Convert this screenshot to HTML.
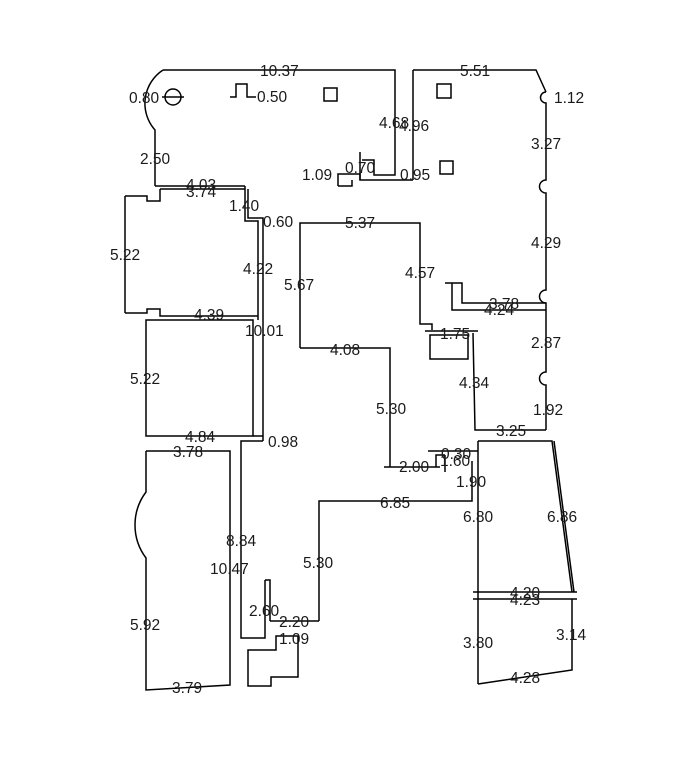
<!DOCTYPE html>
<html><head><style>
html,body{margin:0;padding:0;background:#fff;}
svg{display:block}
text{font-family:"Liberation Sans",sans-serif;font-size:15.5px;fill:#1a1a1a;}
</style></head><body>
<svg width="677" height="758" viewBox="0 0 677 758" xmlns="http://www.w3.org/2000/svg">
<g fill="none" stroke="#000" stroke-width="1.5">
<path d="M163,70 L395,70 L395,175 L374,175 L374,160 L362,160"/>
<path d="M163,70 A40,40 0 0 0 155,130 L155,186"/>
<circle cx="173" cy="97" r="8"/>
<line x1="162" y1="97" x2="184" y2="97"/>
<path d="M230,97 L236,97 L236,84 L247,84 L247,97 L256,97"/>
<rect x="324" y="88" width="13" height="13"/>
<rect x="437" y="84" width="14" height="14"/>
<rect x="440" y="161" width="13" height="13"/>
<path d="M413,70 L536,70 L546,92"/>
<line x1="413" y1="70" x2="413" y2="180"/>
<path d="M338,186 L338,174 L360,174 L360,180 L413,180"/>
<path d="M352,180 L352,186 L338,186"/>
<line x1="360" y1="152" x2="360" y2="180"/>
<path d="M546,92 A5,5 0 0 0 546,103 L546,180 A5,5 0 0 0 546,193 L546,290 A5,5 0 0 0 546,303 L546,372 A5,5 0 0 0 546,385 L546,430"/>
<line x1="155" y1="186" x2="245" y2="186"/>
<line x1="160" y1="189" x2="245" y2="189"/>
<path d="M245,186 L245,221 L258,221 L258,320"/>
<path d="M248,189 L248,218 L263,218 L263,441"/>
<path d="M125,196 L147,196 L147,201 L160,201 L160,189"/>
<line x1="125" y1="196" x2="125" y2="313"/>
<path d="M125,313 L147,313 L147,309 L160,309 L160,316 L258,316"/>
<rect x="146" y="320" width="107" height="116"/>
<line x1="253" y1="436" x2="263" y2="436"/>
<path d="M300,348 L300,223 L420,223 L420,324 L432,324 L432,330"/>
<path d="M300,348 L390,348 L390,467"/>
<line x1="384" y1="467" x2="440" y2="467"/>
<path d="M436,467 L436,455 L445,455"/>
<line x1="428" y1="451" x2="478" y2="451"/>
<line x1="445" y1="455" x2="445" y2="472"/>
<path d="M445,283 L462,283 L462,303 L546,303"/>
<path d="M452,283 L452,310 L546,310"/>
<rect x="430" y="335" width="38" height="24"/>
<path d="M425,331 L478,331"/>
<path d="M473,333 L475,430 L546,430"/>
<path d="M319,621 L319,501 L472,501 L472,461"/>
<path d="M270,621 L319,621"/>
<path d="M265,580 L265,638 L241,638 L241,441 L263,441"/>
<path d="M265,580 L270,580 L270,621"/>
<path d="M248,650 L276,650 L276,636 L298,636 L298,677 L271,677 L271,686 L248,686 Z"/>
<path d="M146,451 L230,451 L230,685 L146,690 L146,558 A55,55 0 0 1 146,492 L146,451"/>
<path d="M478,441 L552,441 L572,592"/>
<path d="M554,441 L574,592"/>
<line x1="478" y1="441" x2="478" y2="684"/>
<line x1="473" y1="592" x2="577" y2="592"/>
<line x1="473" y1="599" x2="577" y2="599"/>
<path d="M572,599 L572,670 L478,684"/>
</g>
<g>
<text x="260" y="76">10.37</text>
<text x="129" y="103">0.80</text>
<text x="257" y="102">0.50</text>
<text x="460" y="76">5.51</text>
<text x="554" y="103">1.12</text>
<text x="379" y="128">4.68</text>
<text x="399" y="131">4.96</text>
<text x="531" y="149">3.27</text>
<text x="140" y="164">2.50</text>
<text x="302" y="180">1.09</text>
<text x="345" y="173">0.70</text>
<text x="400" y="180">0.95</text>
<text x="186" y="190">4.03</text>
<text x="186" y="197">3.74</text>
<text x="229" y="211">1.40</text>
<text x="263" y="227">0.60</text>
<text x="345" y="228">5.37</text>
<text x="531" y="248">4.29</text>
<text x="110" y="260">5.22</text>
<text x="243" y="274">4.22</text>
<text x="284" y="290">5.67</text>
<text x="405" y="278">4.57</text>
<text x="489" y="309">3.78</text>
<text x="484" y="315">4.24</text>
<text x="194" y="320">4.39</text>
<text x="245" y="336">10.01</text>
<text x="440" y="339">1.75</text>
<text x="531" y="348">2.87</text>
<text x="330" y="355">4.08</text>
<text x="130" y="384">5.22</text>
<text x="459" y="388">4.34</text>
<text x="376" y="414">5.30</text>
<text x="533" y="415">1.92</text>
<text x="185" y="442">4.84</text>
<text x="496" y="436">3.25</text>
<text x="268" y="447">0.98</text>
<text x="173" y="457">3.78</text>
<text x="441" y="459">0.30</text>
<text x="440" y="466">1.60</text>
<text x="399" y="472">2.00</text>
<text x="456" y="487">1.90</text>
<text x="380" y="508">6.85</text>
<text x="463" y="522">6.80</text>
<text x="547" y="522">6.86</text>
<text x="226" y="546">8.84</text>
<text x="210" y="574">10.47</text>
<text x="303" y="568">5.30</text>
<text x="510" y="598">4.20</text>
<text x="510" y="605">4.23</text>
<text x="249" y="616">2.60</text>
<text x="279" y="627">2.20</text>
<text x="130" y="630">5.92</text>
<text x="279" y="644">1.09</text>
<text x="463" y="648">3.80</text>
<text x="556" y="640">3.14</text>
<text x="510" y="683">4.28</text>
<text x="172" y="693">3.79</text>
</g>
</svg>
</body></html>
